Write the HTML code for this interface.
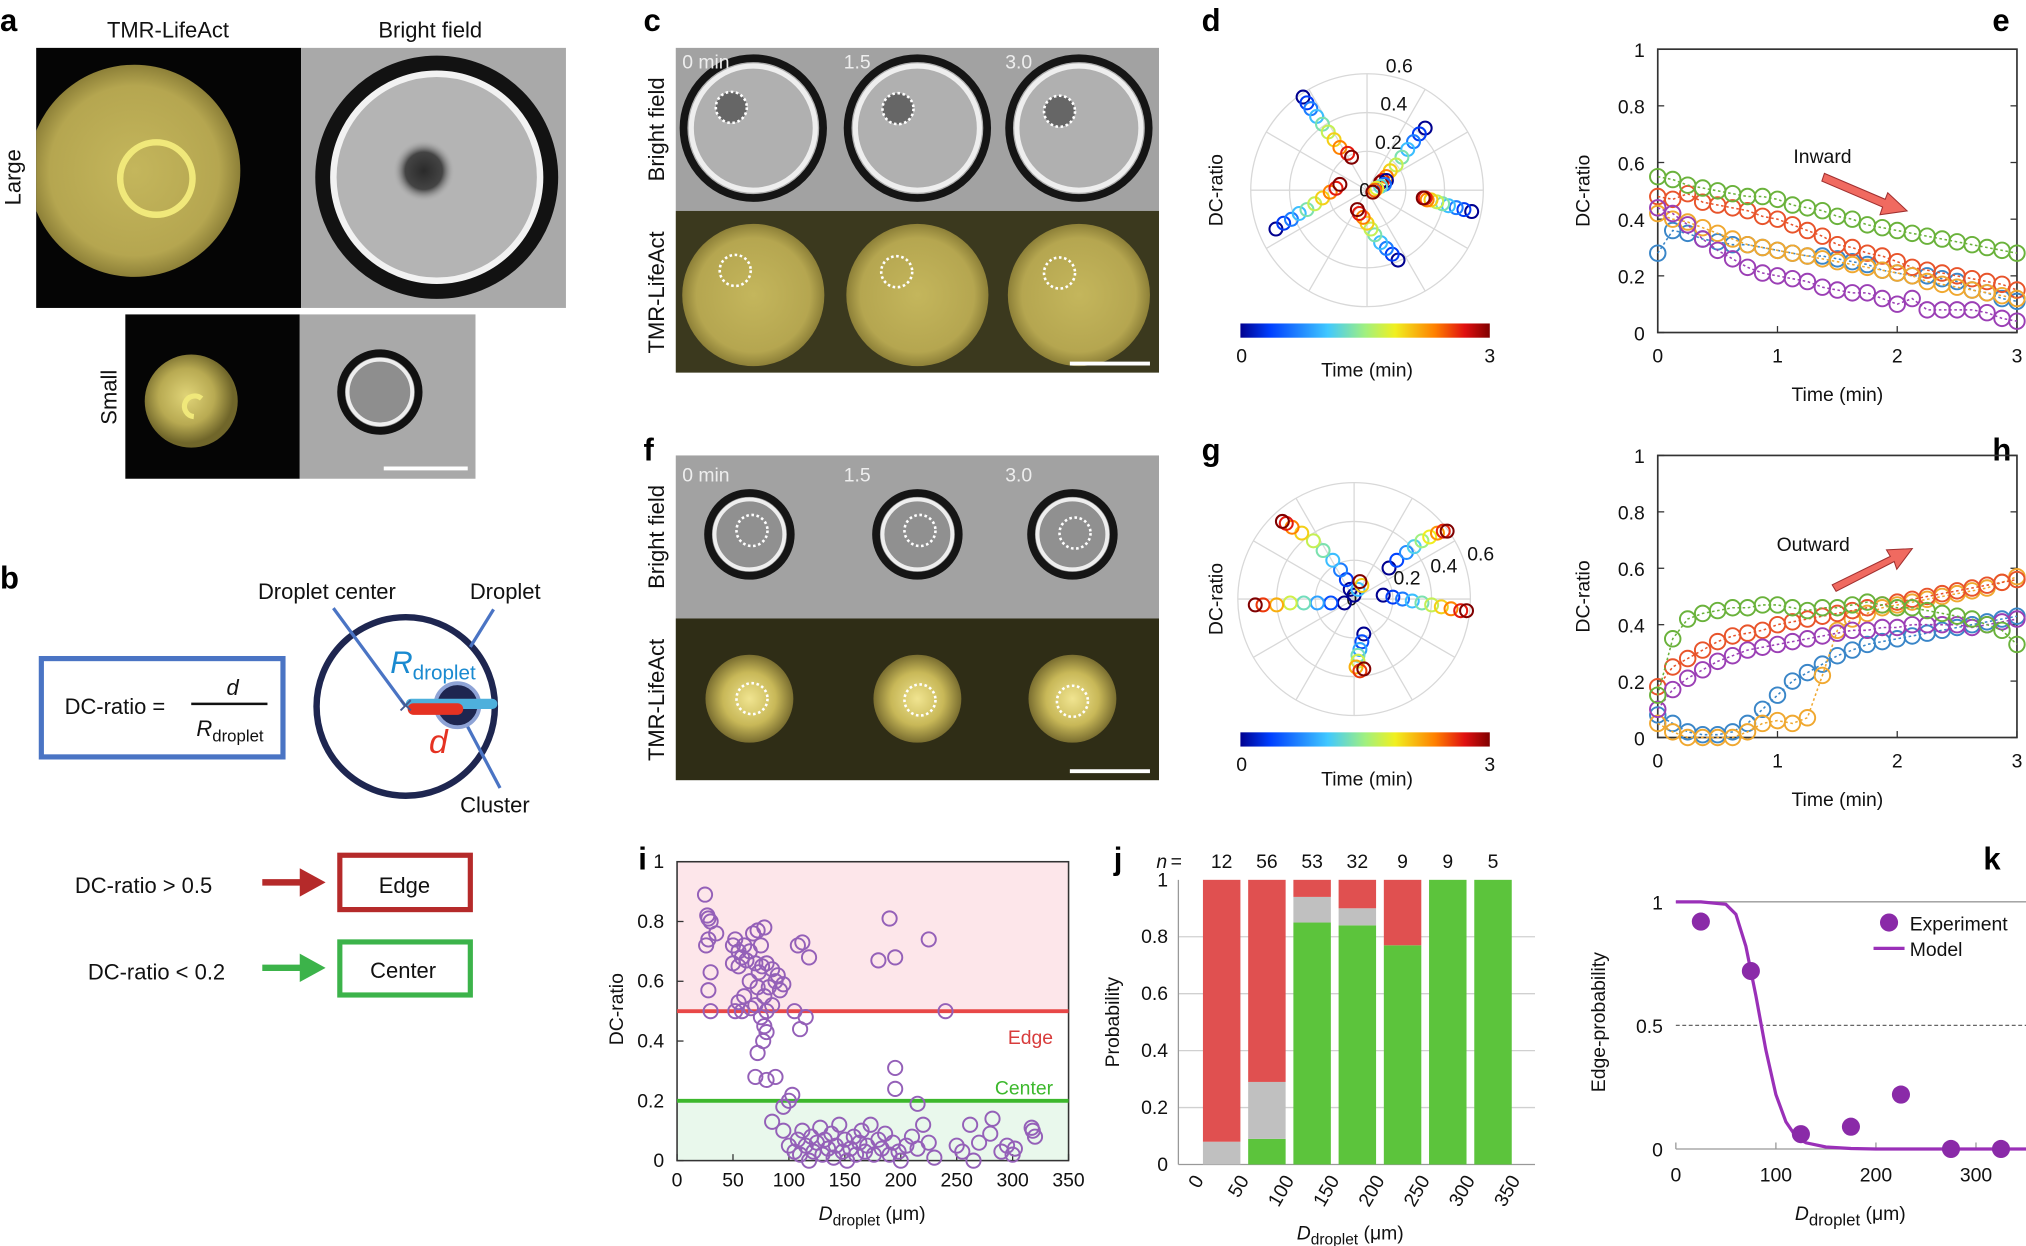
<!DOCTYPE html>
<html><head><meta charset="utf-8"><style>
html,body{margin:0;padding:0;background:#fff;}
svg{display:block;font-family:"Liberation Sans",sans-serif;}
.t{font-size:17px}
.tk{font-size:15px}
.pl{font-size:24px;font-weight:bold;fill:#000}
.w{font-size:15px;fill:#eee}
</style></head><body>
<svg id="fig" width="2026" height="1246" viewBox="0 0 1568 963" preserveAspectRatio="none" xmlns="http://www.w3.org/2000/svg" fill="#111">
<defs>
<radialGradient id="yel" cx="50%" cy="50%" r="50%"><stop offset="0" stop-color="#c4b65c"/><stop offset="0.8" stop-color="#b5a650"/><stop offset="1" stop-color="#8d8038"/></radialGradient>
<radialGradient id="yel2" cx="45%" cy="45%" r="50%"><stop offset="0" stop-color="#e0d478"/><stop offset="0.6" stop-color="#b8aa52"/><stop offset="1" stop-color="#70662a"/></radialGradient>
<radialGradient id="yel3" cx="50%" cy="50%" r="50%"><stop offset="0" stop-color="#f0e490"/><stop offset="0.6" stop-color="#c8b858"/><stop offset="1" stop-color="#7a6e30"/></radialGradient>
<radialGradient id="blob" cx="50%" cy="50%" r="50%"><stop offset="0" stop-color="#2a2a2a"/><stop offset="0.6" stop-color="#444"/><stop offset="1" stop-color="#b4b4b4" stop-opacity="0"/></radialGradient>
<linearGradient id="jet" x1="0" x2="1" y1="0" y2="0">
<stop offset="0" stop-color="#00008f"/><stop offset="0.12" stop-color="#0040ff"/><stop offset="0.35" stop-color="#40c8ff"/><stop offset="0.5" stop-color="#a0f080"/><stop offset="0.62" stop-color="#f0f020"/><stop offset="0.78" stop-color="#ff8000"/><stop offset="0.9" stop-color="#e01010"/><stop offset="1" stop-color="#800000"/></linearGradient>
<clipPath id="clipA"><rect x="28" y="37" width="205" height="201"/></clipPath>
</defs>

<!-- Panel a -->
<g>
<text class="pl" x="0" y="24">a</text>
<text class="t" x="130" y="29" text-anchor="middle" font-size="18">TMR-LifeAct</text>
<text class="t" x="333" y="29" text-anchor="middle" font-size="18">Bright field</text>
<text class="t" transform="translate(16,137) rotate(-90)" text-anchor="middle" font-size="18">Large</text>
<text class="t" transform="translate(90,307) rotate(-90)" text-anchor="middle" font-size="18">Small</text>
<rect x="28" y="37" width="205" height="201" fill="#050505"/>
<g clip-path="url(#clipA)">
<circle cx="104" cy="132" r="82" fill="url(#yel)"/>
<circle cx="121" cy="138" r="28" fill="none" stroke="#f0e87a" stroke-width="5"/>
</g>
<rect x="233" y="37" width="205" height="201" fill="#a9a9a9"/>
<circle cx="338" cy="137" r="88" fill="#b4b4b4" stroke="#121212" stroke-width="12"/>
<circle cx="338" cy="137" r="80" fill="none" stroke="#f2f2f2" stroke-width="5"/>
<circle cx="328" cy="132" r="24" fill="url(#blob)"/>
<rect x="97" y="243" width="135" height="127" fill="#050505"/>
<circle cx="148" cy="310" r="36" fill="url(#yel2)"/>
<path d="M150,322 a8,8 0 1 1 6,-14" fill="none" stroke="#f0e87a" stroke-width="4"/>
<rect x="232" y="243" width="136" height="127" fill="#a9a9a9"/>
<circle cx="294" cy="303" r="30" fill="#8e8e8e" stroke="#111" stroke-width="6"/>
<circle cx="294" cy="303" r="25" fill="none" stroke="#eee" stroke-width="3"/>
<line x1="297" y1="362" x2="362" y2="362" stroke="#fff" stroke-width="3"/>
</g>

<!-- Panel b -->
<g>
<text class="pl" x="0" y="455">b</text>
<rect x="32" y="509" width="187" height="76" fill="none" stroke="#4a74c4" stroke-width="4"/>
<text class="t" x="50" y="552" font-size="18">DC-ratio =</text>
<text class="t" x="180" y="537" font-size="20" font-style="italic" text-anchor="middle">d</text>
<line x1="148" y1="544" x2="207" y2="544" stroke="#111" stroke-width="2"/>
<text class="t" x="152" y="569" font-size="18" font-style="italic">R<tspan font-size="13" font-style="normal" dy="4">droplet</tspan></text>
<circle cx="314" cy="546" r="69" fill="none" stroke="#1e2650" stroke-width="5"/>
<line x1="258" y1="470" x2="314" y2="546" stroke="#4a74c4" stroke-width="2.5"/>
<line x1="382" y1="471" x2="364" y2="500" stroke="#4a74c4" stroke-width="2.5"/>
<line x1="360" y1="558" x2="387" y2="609" stroke="#4a74c4" stroke-width="2.5"/>
<circle cx="354" cy="545" r="17" fill="#1e2650" stroke="#8ea3d6" stroke-width="3"/>
<line x1="318" y1="544" x2="381" y2="544" stroke="#4eb0dc" stroke-width="8" stroke-linecap="round"/>
<line x1="320" y1="548" x2="354" y2="548" stroke="#e53222" stroke-width="9" stroke-linecap="round"/>
<text x="314" y="552" font-size="20" fill="#445a90" text-anchor="middle">×</text>
<text class="t" x="253" y="463" font-size="18" text-anchor="middle">Droplet center</text>
<text class="t" x="391" y="463" font-size="18" text-anchor="middle">Droplet</text>
<text class="t" x="383" y="628" font-size="18" text-anchor="middle">Cluster</text>
<text x="302" y="520" font-size="24" font-style="italic" fill="#1a8ad0">R<tspan font-size="16" font-style="normal" dy="5">droplet</tspan></text>
<text x="332" y="582" font-size="26" font-style="italic" fill="#e53222">d</text>
<text class="t" x="58" y="690" font-size="18">DC-ratio &gt; 0.5</text>
<line x1="203" y1="682" x2="236" y2="682" stroke="#b52a2a" stroke-width="5"/>
<path d="M232,671 L252,682 L232,693 Z" fill="#b52a2a"/>
<rect x="263" y="661" width="101" height="42" fill="none" stroke="#b52a2a" stroke-width="4"/>
<text class="t" x="313" y="690" font-size="19" text-anchor="middle">Edge</text>
<text class="t" x="68" y="757" font-size="18">DC-ratio &lt; 0.2</text>
<line x1="203" y1="748" x2="236" y2="748" stroke="#3cb34a" stroke-width="5"/>
<path d="M232,737 L252,748 L232,759 Z" fill="#3cb34a"/>
<rect x="263" y="728" width="101" height="41" fill="none" stroke="#3cb34a" stroke-width="4"/>
<text class="t" x="312" y="756" font-size="19" text-anchor="middle">Center</text>
</g>

<!-- Panels c, f (images) -->
<g>
<text class="pl" x="498" y="24">c</text>
<rect x="523" y="37" width="374" height="126" fill="#a2a2a2"/>
<rect x="523" y="163" width="374" height="125" fill="#3b391e"/>
<g fill="#b0b0b0" stroke="#151515" stroke-width="6">
<circle cx="583" cy="99" r="54"/><circle cx="710" cy="99" r="54"/><circle cx="835" cy="99" r="54"/></g>
<g fill="none" stroke="#eee" stroke-width="4">
<circle cx="583" cy="99" r="48"/><circle cx="710" cy="99" r="48"/><circle cx="835" cy="99" r="48"/></g>
<circle cx="566" cy="83" r="12" fill="#666"/><circle cx="695" cy="84" r="12" fill="#666"/><circle cx="820" cy="86" r="12" fill="#666"/>
<circle cx="583" cy="228" r="55" fill="url(#yel)"/><circle cx="710" cy="228" r="55" fill="url(#yel)"/><circle cx="835" cy="228" r="55" fill="url(#yel)"/>
<g fill="none" stroke="#fff" stroke-width="2" stroke-dasharray="2,2">
<circle cx="566" cy="83" r="12"/><circle cx="695" cy="84" r="12"/><circle cx="820" cy="86" r="12"/>
<circle cx="569" cy="209" r="12"/><circle cx="694" cy="210" r="12"/><circle cx="820" cy="211" r="12"/></g>
<text class="w" x="528" y="53">0 min</text><text class="w" x="653" y="53">1.5</text><text class="w" x="778" y="53">3.0</text>
<text class="t" transform="translate(514,100) rotate(-90)" text-anchor="middle" font-size="18">Bright field</text>
<text class="t" transform="translate(514,226) rotate(-90)" text-anchor="middle" font-size="18">TMR-LifeAct</text>
<line x1="828" y1="281" x2="890" y2="281" stroke="#fff" stroke-width="3"/>
</g>
<g>
<text class="pl" x="498" y="356">f</text>
<rect x="523" y="352" width="374" height="126" fill="#a2a2a2"/>
<rect x="523" y="478" width="374" height="125" fill="#2f2d16"/>
<g fill="#909090" stroke="#151515" stroke-width="6">
<circle cx="580" cy="413" r="32"/><circle cx="710" cy="413" r="32"/><circle cx="830" cy="413" r="32"/></g>
<g fill="none" stroke="#eee" stroke-width="3">
<circle cx="580" cy="413" r="27"/><circle cx="710" cy="413" r="27"/><circle cx="830" cy="413" r="27"/></g>
<circle cx="580" cy="540" r="34" fill="url(#yel3)"/><circle cx="710" cy="540" r="34" fill="url(#yel3)"/><circle cx="830" cy="540" r="34" fill="url(#yel3)"/>
<g fill="none" stroke="#fff" stroke-width="2" stroke-dasharray="2,2">
<circle cx="582" cy="410" r="12"/><circle cx="712" cy="410" r="12"/><circle cx="832" cy="412" r="12"/>
<circle cx="582" cy="540" r="12"/><circle cx="712" cy="541" r="12"/><circle cx="830" cy="542" r="12"/></g>
<text class="w" x="528" y="372">0 min</text><text class="w" x="653" y="372">1.5</text><text class="w" x="778" y="372">3.0</text>
<text class="t" transform="translate(514,415) rotate(-90)" text-anchor="middle" font-size="18">Bright field</text>
<text class="t" transform="translate(514,541) rotate(-90)" text-anchor="middle" font-size="18">TMR-LifeAct</text>
<line x1="828" y1="596" x2="890" y2="596" stroke="#fff" stroke-width="3"/>
</g>

<text class="pl" x="930" y="24">d</text>
<text class="pl" x="1542" y="24">e</text>
<text class="pl" x="930" y="356">g</text>
<text class="pl" x="1542" y="356">h</text>
<text class="pl" x="494" y="672">i</text>
<text class="pl" x="862" y="672">j</text>
<text class="pl" x="1535" y="672">k</text>
</svg>

<script>
// ---------- data ----------
const timeE = [0,0.125,0.25,0.375,0.5,0.625,0.75,0.875,1,1.125,1.25,1.375,1.5,1.625,1.75,1.875,2,2.125,2.25,2.375,2.5,2.625,2.75,2.875,3];
const eGreen  = [0.55,0.54,0.52,0.51,0.50,0.49,0.48,0.48,0.47,0.45,0.44,0.43,0.41,0.40,0.38,0.37,0.36,0.35,0.34,0.33,0.32,0.31,0.30,0.29,0.28];
const eRed    = [0.48,0.47,0.49,0.46,0.45,0.44,0.43,0.41,0.40,0.38,0.36,0.34,0.31,0.30,0.28,0.27,0.25,0.23,0.22,0.21,0.20,0.19,0.18,0.17,0.15];
const eYellow = [0.42,0.40,0.39,0.37,0.35,0.33,0.31,0.30,0.29,0.28,0.27,0.26,0.25,0.24,0.23,0.22,0.21,0.20,0.18,0.17,0.16,0.15,0.14,0.13,0.12];
const eBlue   = [0.28,0.36,0.35,0.33,0.32,0.31,0.31,0.30,0.29,0.28,0.27,0.27,0.26,0.25,0.24,0.22,0.21,0.20,0.20,0.19,0.18,0.15,0.14,0.12,0.11];
const ePurple = [0.44,0.42,0.38,0.33,0.29,0.26,0.23,0.21,0.20,0.19,0.18,0.16,0.15,0.14,0.14,0.12,0.10,0.12,0.08,0.08,0.08,0.08,0.07,0.05,0.04];
const timeH = [0,0.125,0.25,0.375,0.5,0.625,0.75,0.875,1,1.125,1.25,1.375,1.5,1.625,1.75,1.875,2,2.125,2.25,2.375,2.5,2.625,2.75,2.875,3];
const hGreen  = [0.15,0.35,0.42,0.44,0.45,0.46,0.46,0.47,0.47,0.46,0.45,0.46,0.46,0.47,0.48,0.47,0.46,0.46,0.45,0.44,0.43,0.42,0.40,0.38,0.33];
const hRed    = [0.18,0.25,0.28,0.31,0.34,0.36,0.37,0.38,0.40,0.41,0.42,0.43,0.44,0.45,0.46,0.47,0.48,0.49,0.50,0.51,0.52,0.53,0.54,0.55,0.56];
const hPurple = [0.10,0.17,0.21,0.24,0.27,0.29,0.31,0.32,0.33,0.34,0.35,0.36,0.37,0.38,0.38,0.39,0.39,0.40,0.40,0.40,0.40,0.39,0.40,0.41,0.42];
const hBlue   = [0.08,0.05,0.02,0.01,0.01,0.02,0.05,0.10,0.15,0.20,0.23,0.26,0.29,0.31,0.33,0.34,0.35,0.36,0.37,0.38,0.39,0.40,0.41,0.42,0.43];
const hYellow = [0.05,0.02,0.00,0.00,0.00,0.00,0.02,0.05,0.06,0.05,0.07,0.22,0.38,0.42,0.44,0.46,0.47,0.48,0.49,0.50,0.51,0.52,0.53,0.55,0.57];
const yTicks01 = [0,0.2,0.4,0.6,0.8,1];
const yTickLabels01 = ['0','0.2','0.4','0.6','0.8','1'];
const xTicksTime = [0,1,2,3];

const dTrackA = [[-0.33,0.48],[-0.31,0.45],[-0.29,0.42],[-0.26,0.38],[-0.23,0.34],[-0.20,0.30],[-0.17,0.26],[-0.14,0.22],[-0.10,0.19],[-0.08,0.17]];
const dTrackB = [[0.30,0.32],[0.27,0.29],[0.24,0.25],[0.21,0.21],[0.18,0.17],[0.15,0.13],[0.12,0.10],[0.10,0.07],[0.08,0.05],[0.07,0.04]];
const dTrackC = [[0.54,-0.11],[0.50,-0.10],[0.46,-0.09],[0.42,-0.08],[0.39,-0.07],[0.36,-0.06],[0.33,-0.05],[0.31,-0.05],[0.30,-0.04],[0.29,-0.04]];
const dTrackD = [[0.16,-0.36],[0.13,-0.33],[0.10,-0.30],[0.07,-0.27],[0.04,-0.23],[0.02,-0.20],[0.00,-0.17],[-0.02,-0.14],[-0.04,-0.12],[-0.05,-0.10]];
const dTrackE = [[-0.47,-0.20],[-0.43,-0.17],[-0.39,-0.15],[-0.35,-0.12],[-0.31,-0.10],[-0.27,-0.07],[-0.23,-0.04],[-0.19,-0.01],[-0.16,0.01],[-0.14,0.03]];
const dTrackF = [[0.10,0.05],[0.09,0.03],[0.07,0.02],[0.05,0.01],[0.04,0.0],[0.03,-0.01]];
const gTrackA = [[-0.02,0.05],[-0.04,0.10],[-0.07,0.15],[-0.11,0.20],[-0.16,0.25],[-0.21,0.30],[-0.27,0.34],[-0.32,0.37],[-0.35,0.39],[-0.37,0.40]];
const gTrackB = [[0.15,0.02],[0.20,0.01],[0.25,0.0],[0.30,-0.01],[0.35,-0.02],[0.40,-0.03],[0.45,-0.04],[0.50,-0.05],[0.55,-0.06],[0.58,-0.06]];
const gTrackC = [[0.18,0.16],[0.22,0.20],[0.27,0.24],[0.31,0.27],[0.35,0.30],[0.39,0.32],[0.43,0.34],[0.46,0.35],[0.48,0.35]];
const gTrackD = [[0.05,-0.18],[0.04,-0.22],[0.03,-0.26],[0.02,-0.29],[0.02,-0.32],[0.01,-0.35],[0.03,-0.37],[0.05,-0.36]];
const gTrackE = [[-0.05,-0.02],[-0.12,-0.02],[-0.19,-0.02],[-0.26,-0.02],[-0.33,-0.02],[-0.40,-0.03],[-0.47,-0.03],[-0.51,-0.03]];
const gTrackF = [[0.00,0.02],[0.02,0.05],[0.04,0.07],[0.03,0.09]];
const polarRings = [0.2,0.4,0.6];
const polarRingLabels = ['0.2','0.4','0.6'];

const iPoints = [[25,0.89],[27,0.82],[28,0.81],[30,0.80],[28,0.74],[26,0.72],[35,0.76],[30,0.63],[28,0.57],[30,0.50],
[50,0.72],[52,0.74],[55,0.70],[50,0.66],[55,0.65],[58,0.68],[60,0.72],[62,0.67],[65,0.70],[68,0.76],[72,0.77],[75,0.72],[78,0.78],[70,0.66],[73,0.63],[76,0.65],[80,0.66],[85,0.64],[88,0.60],[90,0.62],[92,0.57],[95,0.59],[82,0.58],[78,0.55],[72,0.58],[65,0.60],[60,0.55],[55,0.53],[52,0.50],[58,0.50],[66,0.51],[70,0.52],[75,0.48],[80,0.50],[85,0.52],[78,0.45],[80,0.43],[77,0.40],[72,0.36],[70,0.28],[80,0.27],[88,0.28],[105,0.50],[110,0.44],[115,0.48],[108,0.72],[112,0.73],[118,0.68],[180,0.67],[190,0.81],[195,0.68],[225,0.74],[240,0.50],
[95,0.18],[100,0.20],[103,0.22],[195,0.31],[195,0.24],[215,0.19],
[85,0.13],[95,0.10],[100,0.05],[105,0.03],[108,0.07],[110,0.02],[112,0.10],[115,0.05],[118,0.00],[120,0.08],[122,0.03],[125,0.06],[128,0.11],[130,0.02],[132,0.07],[135,0.04],[138,0.09],[140,0.01],[142,0.05],[145,0.12],[148,0.03],[150,0.07],[152,0.00],[155,0.04],[158,0.08],[160,0.02],[163,0.06],[165,0.10],[168,0.03],[170,0.05],[173,0.12],[176,0.02],[180,0.07],[183,0.04],[186,0.09],[190,0.02],[193,0.06],[198,0.03],[200,0.00],[205,0.05],[210,0.08],[215,0.04],[220,0.12],[225,0.06],[230,0.01],[250,0.05],[255,0.03],[262,0.12],[265,0.00],[270,0.06],[280,0.09],[282,0.14],[290,0.03],[295,0.05],[300,0.02],[302,0.04],[318,0.10],[320,0.08],[317,0.11]];
const iXTicks = [0,50,100,150,200,250,300,350];

const jBinStart = [0,50,100,150,200,250,300];
const jGreen = [0,0.09,0.85,0.84,0.77,1,1];
const jGray  = [0.08,0.20,0.09,0.06,0,0,0];
const jRed   = [0.92,0.71,0.06,0.10,0.23,0,0];
const jN = ['12','56','53','32','9','9','5'];
const jXTicks = [0,50,100,150,200,250,300,350];

const kExpD = [25,75,125,175,225,275,325];
const kExpP = [0.92,0.72,0.06,0.09,0.22,0,0];
const kModelD = [0,25,50,60,70,80,90,100,110,120,130,150,175,200,250,300,350];
const kModelP = [1,1,0.99,0.95,0.82,0.62,0.40,0.22,0.11,0.05,0.025,0.008,0.002,0,0,0,0];
const kXTicks = [0,100,200,300];

// ---------- helpers ----------
const NS = 'http://www.w3.org/2000/svg';
const svg = document.getElementById('fig');
function mk(tag, attrs, name, parent) {
  const e = document.createElementNS(NS, tag);
  for (const k in attrs) e.setAttribute(k, attrs[k]);
  
  
  (parent || svg).appendChild(e);
  return e;
}
function txt(x, y, s, attrs, name, parent) {
  const e = mk('text', Object.assign({x: x, y: y, class: 'tk'}, attrs || {}), name, parent);
  e.textContent = s;
  return e;
}
function lin(d0, d1, r0, r1) { return v => r0 + (v - d0) / (d1 - d0) * (r1 - r0); }
function jet(t) {
  const stops = [[0,0,0,143],[0.12,0,64,255],[0.35,64,200,255],[0.5,160,240,128],[0.62,240,240,32],[0.78,255,128,0],[0.9,224,16,16],[1,128,0,0]];
  for (let i = 1; i < stops.length; i++) {
    if (t <= stops[i][0]) {
      const a = stops[i-1], b = stops[i], f = (t - a[0]) / (b[0] - a[0]);
      return 'rgb(' + [1,2,3].map(k => Math.round(a[k] + f * (b[k] - a[k]))).join(',') + ')';
    }
  }
  return 'rgb(128,0,0)';
}

// ---------- line panels e, h ----------
function linePanel(prefix, top, bottom, times, series, colors, names, annot, ax, ay, arrow) {
  const g = mk('g', {}, prefix + '-chart');
  const x = lin(0, 3, 1283, 1561), y = lin(0, 1, bottom, top);
  mk('rect', {x: 1283, y: top, width: 278, height: bottom - top, fill: 'none', stroke: '#333', 'stroke-width': 1.3}, prefix + '-axes-box', g);
  yTicks01.forEach((v, i) => {
    mk('line', {x1: 1283, x2: 1288, y1: y(v), y2: y(v), stroke: '#333'}, prefix + '-y-tick', g);
    mk('line', {x1: 1556, x2: 1561, y1: y(v), y2: y(v), stroke: '#333'}, prefix + '-y-tick-right', g);
    txt(1273, y(v) + 6, yTickLabels01[i], {'text-anchor': 'end', 'font-size': 17}, prefix + '-y-tick-label', g);
  });
  xTicksTime.forEach(v => {
    mk('line', {x1: x(v), x2: x(v), y1: bottom, y2: bottom - 5, stroke: '#333'}, prefix + '-x-tick', g);
    txt(x(v), bottom + 23, String(v), {'text-anchor': 'middle', 'font-size': 17}, prefix + '-x-tick-label', g);
  });
  txt(1422, bottom + 53, 'Time (min)', {'text-anchor': 'middle', 'font-size': 18}, prefix + '-x-axis-title', g);
  txt(0, 0, 'DC-ratio', {'text-anchor': 'middle', 'font-size': 18, transform: 'translate(1230,' + ((top + bottom) / 2) + ') rotate(-90)'}, prefix + '-y-axis-title', g);
  series.forEach((vals, si) => {
    const pts = vals.map((v, i) => x(times[i]) + ',' + y(v)).join(' ');
    mk('polyline', {points: pts, fill: 'none', stroke: colors[si], 'stroke-width': 1.2, 'stroke-dasharray': '2,2'}, prefix + '-line-' + names[si], g);
    vals.forEach((v, i) => {
      mk('circle', {cx: x(times[i]), cy: y(v), r: 6, fill: 'none', stroke: colors[si], 'stroke-width': 1.5}, prefix + '-point-' + names[si], g);
    });
  });
  txt(ax, ay, annot, {'font-size': 18}, prefix + '-annotation', g);
  mk('path', {d: arrow, fill: '#f06a60', stroke: '#a03030', 'stroke-width': 0.8}, prefix + '-arrow', g);
}
const colorsE = ['#3a86c8', '#e8542b', '#f0a830', '#9b3fb5', '#6ab23b'];
linePanel('e', 38, 257, timeE, [eBlue, eRed, eYellow, ePurple, eGreen], colorsE, ['blue','red','yellow','purple','green'], 'Inward', 1388, 126,
  'M1412,134 L1459,154 L1461,149 L1476,163 L1455,166 L1457,160 L1410,140 Z');
linePanel('h', 352, 570, timeH, [hBlue, hYellow, hRed, hPurple, hGreen], ['#3a86c8', '#f0a830', '#e8542b', '#9b3fb5', '#6ab23b'], ['blue','yellow','red','purple','green'], 'Outward', 1375, 426,
  'M1418,452 L1463,430 L1460,425 L1480,424 L1468,440 L1466,434 L1421,457 Z');

// ---------- polar panels d, g ----------
function polarPanel(prefix, cx, cy, tracks, labelAngle, cbY) {
  const g = mk('g', {}, prefix + '-polar-chart');
  const s = 150;
  for (let a = 0; a < 360; a += 30) {
    const r = a * Math.PI / 180;
    mk('line', {x1: cx, y1: cy, x2: cx + 90 * Math.cos(r), y2: cy - 90 * Math.sin(r), stroke: '#d8d8d8', 'stroke-width': 1}, prefix + '-spoke', g);
  }
  polarRings.forEach((v, i) => {
    mk('circle', {cx: cx, cy: cy, r: v * s, fill: 'none', stroke: '#d8d8d8', 'stroke-width': 1}, prefix + '-ring', g);
    const r = labelAngle * Math.PI / 180;
    txt(cx + v * s * Math.cos(r) + 2, cy - v * s * Math.sin(r) - 2, polarRingLabels[i], {'font-size': 13}, prefix + '-ring-label', g);
  });
  txt(cx - 6, cy + 5, '0', {'font-size': 13}, prefix + '-origin-label', g);
  tracks.forEach((tr, ti) => {
    tr.forEach((p, i) => {
      const t = i / (tr.length - 1);
      mk('circle', {cx: cx + p[0] * s, cy: cy - p[1] * s, r: 5, fill: 'none', stroke: jet(t), 'stroke-width': 1.6}, prefix + '-track-' + ti + '-point', g);
    });
  });
  txt(0, 0, 'DC-ratio', {'text-anchor': 'middle', 'font-size': 18, transform: 'translate(946,' + cy + ') rotate(-90)'}, prefix + '-y-axis-title', g);
  mk('rect', {x: 960, y: cbY, width: 193, height: 11, fill: 'url(#jet)'}, prefix + '-colorbar', g);
  txt(961, cbY + 30, '0', {'text-anchor': 'middle', 'font-size': 15}, prefix + '-colorbar-min', g);
  txt(1153, cbY + 30, '3', {'text-anchor': 'middle', 'font-size': 15}, prefix + '-colorbar-max', g);
  txt(1058, cbY + 41, 'Time (min)', {'text-anchor': 'middle', 'font-size': 15}, prefix + '-colorbar-title', g);
}
polarPanel('d', 1058, 147, [dTrackA, dTrackB, dTrackC, dTrackD, dTrackE, dTrackF], 82, 250);
polarPanel('g', 1048, 463, [gTrackA, gTrackB, gTrackC, gTrackD, gTrackE, gTrackF], 18, 566);

// ---------- panel i ----------
(function () {
  const g = mk('g', {}, 'i-scatter-chart');
  const x = lin(0, 350, 524, 827), y = lin(0, 1, 897, 666);
  mk('rect', {x: 524, y: y(1), width: 303, height: y(0.5) - y(1), fill: '#fde6ea'}, 'i-edge-region', g);
  mk('rect', {x: 524, y: y(0.2), width: 303, height: y(0) - y(0.2), fill: '#e9f8ec'}, 'i-center-region', g);
  mk('rect', {x: 524, y: 666, width: 303, height: 231, fill: 'none', stroke: '#333', 'stroke-width': 1.2}, 'i-axes-box', g);
  yTicks01.forEach((v, i) => {
    mk('line', {x1: 524, x2: 529, y1: y(v), y2: y(v), stroke: '#333'}, 'i-y-tick', g);
    txt(514, y(v) + 5, yTickLabels01[i], {'text-anchor': 'end', 'font-size': 15}, 'i-y-tick-label', g);
  });
  iXTicks.forEach(v => {
    mk('line', {x1: x(v), x2: x(v), y1: 897, y2: 892, stroke: '#333'}, 'i-x-tick', g);
    txt(x(v), 917, String(v), {'text-anchor': 'middle', 'font-size': 15}, 'i-x-tick-label', g);
  });
  mk('line', {x1: 524, x2: 827, y1: y(0.5), y2: y(0.5), stroke: '#e84848', 'stroke-width': 3}, 'i-edge-threshold', g);
  mk('line', {x1: 524, x2: 827, y1: y(0.2), y2: y(0.2), stroke: '#3cb82c', 'stroke-width': 3}, 'i-center-threshold', g);
  txt(815, 807, 'Edge', {'text-anchor': 'end', 'font-size': 17, fill: '#d83c3c'}, 'i-edge-label', g);
  txt(815, 846, 'Center', {'text-anchor': 'end', 'font-size': 17, fill: '#3cb82c'}, 'i-center-label', g);
  iPoints.forEach(p => {
    mk('circle', {cx: x(p[0]), cy: y(p[1]), r: 5.5, fill: 'none', stroke: '#9460b8', 'stroke-width': 1.5}, 'i-point', g);
  });
  txt(0, 0, 'DC-ratio', {'text-anchor': 'middle', 'font-size': 15, transform: 'translate(482,780) rotate(-90)'}, 'i-y-axis-title', g);
  const t = txt(675, 943, '', {'text-anchor': 'middle', 'font-size': 16}, 'i-x-axis-title', g);
  t.innerHTML = '<tspan font-style="italic">D</tspan><tspan font-size="12" dy="4">droplet</tspan><tspan dy="-4"> (μm)</tspan>';
})();

// ---------- panel j ----------
(function () {
  const g = mk('g', {}, 'j-bar-chart');
  const x = lin(0, 350, 928, 1173), y = lin(0, 1, 900, 680);
  [0.2, 0.4, 0.6, 0.8].forEach(v => mk('line', {x1: 912, x2: 1188, y1: y(v), y2: y(v), stroke: '#d0d0d0'}, 'j-gridline', g));
  mk('line', {x1: 912, x2: 912, y1: 680, y2: 900, stroke: '#999'}, 'j-y-axis', g);
  mk('line', {x1: 912, x2: 1188, y1: 900, y2: 900, stroke: '#999'}, 'j-x-axis', g);
  yTicks01.forEach((v, i) => txt(904, y(v) + 5, yTickLabels01[i], {'text-anchor': 'end', 'font-size': 15}, 'j-y-tick-label', g));
  jBinStart.forEach((b, i) => {
    const x0 = x(b) + 3, w = x(b + 50) - x(b) - 6;
    let base = 0;
    [[jGreen[i], '#5cc43c', 'green'], [jGray[i], '#c0c0c0', 'gray'], [jRed[i], '#e05050', 'red']].forEach(seg => {
      if (seg[0] > 0) {
        mk('rect', {x: x0, y: y(base + seg[0]), width: w, height: y(base) - y(base + seg[0]), fill: seg[1]}, 'j-bar-' + seg[2] + '-' + b, g);
      }
      base += seg[0];
    });
    txt(x0 + w / 2, 671, jN[i], {'text-anchor': 'middle', 'font-size': 15}, 'j-n-label', g);
  });
  txt(895, 671, 'n', {'font-size': 15, 'font-style': 'italic'}, 'j-n-prefix', g);
  txt(906, 671, ' =', {'font-size': 15}, 'j-n-equals', g);
  jXTicks.forEach(v => txt(0, 0, String(v), {'text-anchor': 'end', 'font-size': 15, transform: 'translate(' + (x(v) + 4) + ',912) rotate(-60)'}, 'j-x-tick-label', g));
  txt(0, 0, 'Probability', {'text-anchor': 'middle', 'font-size': 15, transform: 'translate(866,790) rotate(-90)'}, 'j-y-axis-title', g);
  const t = txt(1045, 958, '', {'text-anchor': 'middle', 'font-size': 16}, 'j-x-axis-title', g);
  t.innerHTML = '<tspan font-style="italic">D</tspan><tspan font-size="12" dy="4">droplet</tspan><tspan dy="-4"> (μm)</tspan>';
})();

// ---------- panel k ----------
(function () {
  const g = mk('g', {}, 'k-chart');
  const x = lin(0, 350, 1297, 1568), y = lin(0, 1, 888, 697);
  mk('line', {x1: 1297, x2: 1568, y1: y(1), y2: y(1), stroke: '#999'}, 'k-top-line', g);
  mk('line', {x1: 1297, x2: 1568, y1: y(0), y2: y(0), stroke: '#999'}, 'k-x-axis', g);
  mk('line', {x1: 1297, x2: 1568, y1: y(0.5), y2: y(0.5), stroke: '#666', 'stroke-dasharray': '3,2'}, 'k-half-line', g);
  [[0, '0'], [0.5, '0.5'], [1, '1']].forEach(v => txt(1287, y(v[0]) + 6, v[1], {'text-anchor': 'end', 'font-size': 17}, 'k-y-tick-label', g));
  kXTicks.forEach(v => {
    mk('line', {x1: x(v), x2: x(v), y1: y(0), y2: y(0) - 5, stroke: '#999'}, 'k-x-tick', g);
    txt(x(v), 913, String(v), {'text-anchor': 'middle', 'font-size': 17}, 'k-x-tick-label', g);
  });
  mk('polyline', {points: kModelD.map((d, i) => x(d) + ',' + y(kModelP[i])).join(' '), fill: 'none', stroke: '#9a30b8', 'stroke-width': 2.5}, 'k-model-line', g);
  kExpD.forEach((d, i) => mk('circle', {cx: x(d), cy: y(kExpP[i]), r: 7, fill: '#8a2aa8'}, 'k-experiment-point', g));
  mk('circle', {cx: 1462, cy: 713, r: 7, fill: '#8a2aa8'}, 'k-legend-experiment-marker', g);
  txt(1478, 719, 'Experiment', {'font-size': 16}, 'k-legend-experiment', g);
  mk('line', {x1: 1450, x2: 1474, y1: 733, y2: 733, stroke: '#9a30b8', 'stroke-width': 2.5}, 'k-legend-model-marker', g);
  txt(1478, 739, 'Model', {'font-size': 16}, 'k-legend-model', g);
  txt(0, 0, 'Edge-probability', {'text-anchor': 'middle', 'font-size': 15, transform: 'translate(1242,790) rotate(-90)'}, 'k-y-axis-title', g);
  const t = txt(1432, 943, '', {'text-anchor': 'middle', 'font-size': 18}, 'k-x-axis-title', g);
  t.innerHTML = '<tspan font-style="italic">D</tspan><tspan font-size="13" dy="4">droplet</tspan><tspan dy="-4"> (μm)</tspan>';
})();
</script>
</body></html>
